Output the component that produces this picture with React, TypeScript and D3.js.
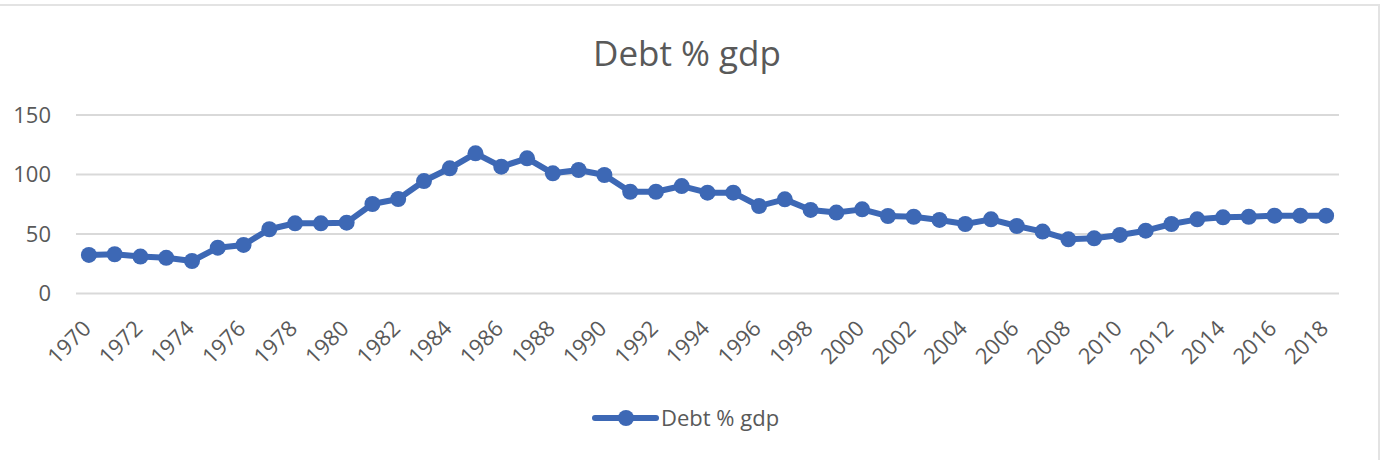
import React from "react";
import * as d3 from "d3";

const years: number[] = [
  1970, 1971, 1972, 1973, 1974, 1975, 1976, 1977, 1978, 1979,
  1980, 1981, 1982, 1983, 1984, 1985, 1986, 1987, 1988, 1989,
  1990, 1991, 1992, 1993, 1994, 1995, 1996, 1997, 1998, 1999,
  2000, 2001, 2002, 2003, 2004, 2005, 2006, 2007, 2008, 2009,
  2010, 2011, 2012, 2013, 2014, 2015, 2016, 2017, 2018,
];

const debtPctGdp: number[] = [
  32.4, 33, 31, 30, 27.3, 38.5, 40.8, 54, 59, 59,
  59.5, 75.2, 79.4, 94.5, 105.2, 117.8, 106.6, 113.6, 101, 103.8,
  99.6, 85.5, 85.5, 90.3, 84.7, 84.7, 73.5, 79.1, 70.2, 68,
  70.7, 65.1, 64.5, 61.8, 58.4, 62.3, 56.7, 52, 45.5, 46.4,
  49.2, 52.8, 58.4, 62.3, 64, 64.5, 65.4, 65.4, 65.4,
];

const yTicks: number[] = [0, 50, 100, 150];
const xTickLabels: number[] = years.filter((y) => (y - 1970) % 2 === 0);

const seriesName = "Debt % gdp";
const chartTitle = "Debt % gdp";

const W = 1388;
const H = 460;
const plotLeft = 76;
const plotRight = 1339;
const plotTop = 115;
const plotBottom = 293.5;
const blue = "#3D68B5";
const grid = "#D9D9D9";
const textColor = "#595959";
const font = "'Open Sans', 'Noto Sans', sans-serif";

export default function App() {
  const x = d3
    .scaleBand<number>()
    .domain(years)
    .range([plotLeft, plotRight])
    .padding(0);
  const cx = (yr: number) => (x(yr) as number) + x.bandwidth() / 2;
  const y = d3.scaleLinear().domain([0, 150]).range([plotBottom, plotTop]);

  const line = d3
    .line<number>()
    .x((_, i) => cx(years[i]))
    .y((d) => y(d));

  return (
    <svg
      width={W}
      height={H}
      style={{ position: "absolute", left: 0, top: 0, background: "#fff" }}
    >
      <rect
        x={-5}
        y={5}
        width={1384}
        height={470}
        fill="#fff"
        stroke="#E3E3E3"
        strokeWidth={2}
      />
      <text
        x={687}
        y={66}
        textAnchor="middle"
        fontFamily={font}
        fontSize={35}
        fill={textColor}
      >
        {chartTitle}
      </text>
      {yTicks.map((t) => (
        <g key={t}>
          <line
            x1={plotLeft}
            x2={plotRight}
            y1={y(t)}
            y2={y(t)}
            stroke={grid}
            strokeWidth={2}
          />
          <text
            x={51}
            y={y(t)}
            dy="0.35em"
            textAnchor="end"
            fontFamily={font}
            fontSize={22}
            fill={textColor}
          >
            {t}
          </text>
        </g>
      ))}
      {xTickLabels.map((yr) => (
        <text
          key={yr}
          transform={`translate(${cx(yr) - 2},${plotBottom + 31}) rotate(-45)`}
          textAnchor="end"
          dy="0.35em"
          fontFamily={font}
          fontSize={22}
          fill={textColor}
        >
          {yr}
        </text>
      ))}
      <path
        d={line(debtPctGdp) || ""}
        fill="none"
        stroke={blue}
        strokeWidth={6}
        strokeLinejoin="round"
        strokeLinecap="round"
      />
      {debtPctGdp.map((v, i) => (
        <circle key={years[i]} cx={cx(years[i])} cy={y(v)} r={8} fill={blue} />
      ))}
      <g>
        <line
          x1={595}
          x2={656}
          y1={418}
          y2={418}
          stroke={blue}
          strokeWidth={6}
          strokeLinecap="round"
        />
        <circle cx={626} cy={418} r={8} fill={blue} />
        <text
          x={661}
          y={418}
          dy="0.35em"
          fontFamily={font}
          fontSize={22}
          fill={textColor}
        >
          {seriesName}
        </text>
      </g>
    </svg>
  );
}
